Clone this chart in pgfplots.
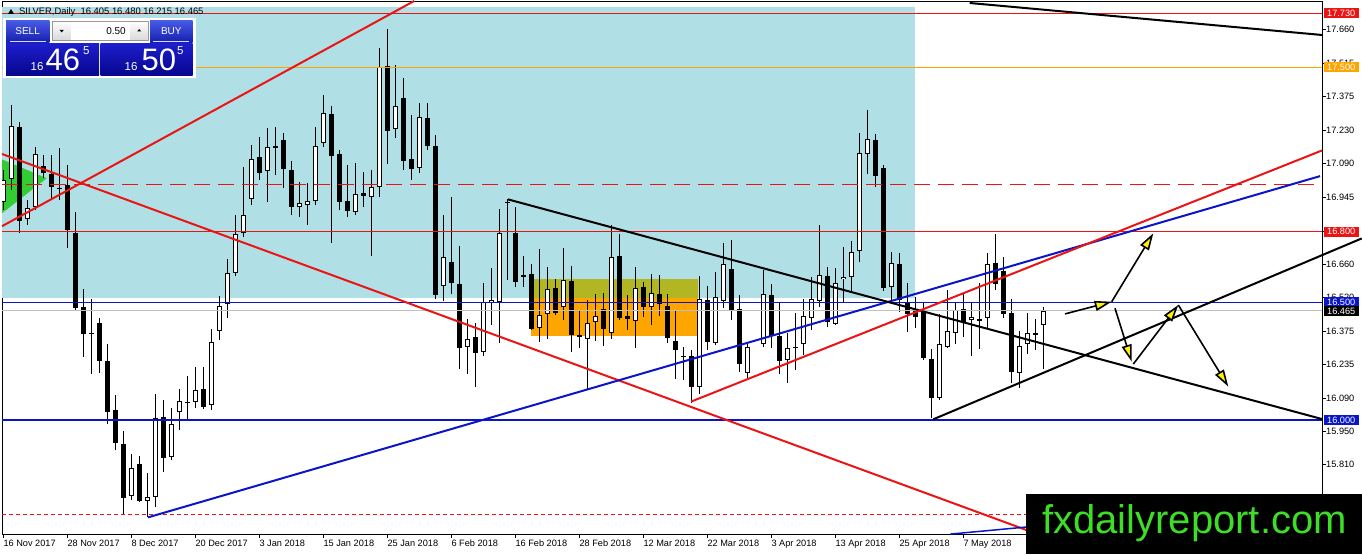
\documentclass[border=0pt]{standalone}
\usepackage{fontspec}
\setmainfont{Liberation Sans}
\usepackage{pgfplots}
\pgfplotsset{compat=1.18}
\usepackage{pgfplotstable}
\usetikzlibrary{arrows.meta}

\definecolor{pblue}{RGB}{176,224,230}
\definecolor{olivebox}{RGB}{178,182,34}
\definecolor{orbox}{RGB}{255,165,0}
\definecolor{trigreen}{RGB}{50,205,50}
\definecolor{mtred}{RGB}{235,20,20}
\definecolor{mtblue}{RGB}{10,20,200}
\definecolor{bidgray}{RGB}{192,192,192}
\definecolor{logogreen}{RGB}{62,222,40}
\definecolor{btnhi}{RGB}{70,90,228}
\definecolor{btnlo}{RGB}{20,30,175}
\definecolor{pricehi}{RGB}{30,30,205}
\definecolor{pricelo}{RGB}{5,5,140}

\newcommand{\tf}{\fontsize{9.2}{10}\selectfont}

% daily candles, bar index / open / high / low / close
\pgfplotstableread{
i O H L C
0 16.927 17.063 16.893 17.020
1 17.025 17.339 16.978 17.250
2 17.246 17.267 16.795 16.846
3 16.855 16.935 16.829 16.901
4 16.906 17.161 16.893 17.131
5 17.080 17.127 17.029 17.050
6 17.046 17.127 16.935 16.991
7 16.986 17.156 16.935 16.982
8 16.999 17.084 16.731 16.808
9 16.795 16.884 16.468 16.476
10 16.480 16.557 16.268 16.366
11 16.370 16.514 16.196 16.366
12 16.412 16.434 16.200 16.251
13 16.251 16.323 15.983 16.034
14 16.043 16.106 15.872 15.902
15 15.898 15.953 15.596 15.668
16 15.677 15.855 15.660 15.796
17 15.813 15.847 15.650 15.656
18 15.656 15.775 15.588 15.673
19 15.673 16.111 15.630 16.008
20 16.013 16.085 15.779 15.838
21 15.843 16.051 15.830 15.983
22 16.034 16.132 15.957 16.081
23 16.077 16.187 16.004 16.072
24 16.077 16.225 16.051 16.128
25 16.132 16.225 16.047 16.055
26 16.064 16.387 16.043 16.332
27 16.378 16.527 16.340 16.485
28 16.493 16.685 16.434 16.625
29 16.625 16.872 16.612 16.791
30 16.795 17.076 16.778 16.872
31 16.940 17.169 16.914 17.110
32 17.118 17.203 17.020 17.050
33 17.059 17.241 16.927 17.161
34 17.165 17.246 17.042 17.156
35 17.190 17.220 16.986 17.067
36 17.063 17.101 16.872 16.906
37 16.906 17.012 16.863 16.923
38 16.914 17.008 16.829 16.931
39 16.931 17.246 16.914 17.165
40 17.178 17.382 17.161 17.305
41 17.301 17.335 16.753 17.122
42 17.131 17.148 16.893 16.927
43 16.931 17.084 16.863 16.889
44 16.884 17.093 16.872 16.961
45 16.965 17.054 16.906 16.952
46 16.948 17.063 16.697 16.991
47 16.991 17.582 16.948 17.501
48 17.505 17.662 17.088 17.229
49 17.237 17.509 17.199 17.335
50 17.369 17.454 17.063 17.101
51 17.110 17.297 17.020 17.067
52 17.071 17.348 17.050 17.288
53 17.284 17.348 17.148 17.165
54 17.165 17.212 16.514 16.531
55 16.570 16.872 16.506 16.693
56 16.672 16.948 16.536 16.583
57 16.578 16.740 16.217 16.306
58 16.310 16.429 16.196 16.344
59 16.353 16.412 16.140 16.285
60 16.289 16.583 16.272 16.502
61 16.497 16.646 16.404 16.510
62 16.502 16.897 16.327 16.795
63 16.927 16.940 16.595 16.923
64 16.795 16.906 16.565 16.587
65 16.616 16.697 16.565 16.608
66 16.621 16.663 16.383 16.387
67 16.391 16.727 16.332 16.446
68 16.451 16.651 16.344 16.557
69 16.561 16.599 16.446 16.455
70 16.480 16.731 16.425 16.595
71 16.591 16.655 16.289 16.361
72 16.361 16.468 16.306 16.353
73 16.344 16.510 16.128 16.412
74 16.417 16.536 16.336 16.442
75 16.472 16.540 16.315 16.387
76 16.370 16.829 16.344 16.693
77 16.697 16.791 16.425 16.434
78 16.442 16.531 16.383 16.429
79 16.421 16.651 16.306 16.561
80 16.565 16.587 16.438 16.480
81 16.480 16.621 16.404 16.540
82 16.536 16.616 16.442 16.493
83 16.485 16.536 16.327 16.349
84 16.336 16.463 16.174 16.298
85 16.272 16.310 16.170 16.268
86 16.272 16.298 16.072 16.140
87 16.140 16.612 16.111 16.514
88 16.510 16.570 16.298 16.332
89 16.327 16.629 16.319 16.523
90 16.506 16.753 16.476 16.663
91 16.642 16.765 16.425 16.468
92 16.472 16.531 16.204 16.238
93 16.200 16.332 16.179 16.310
95 16.323 16.638 16.310 16.536
96 16.531 16.578 16.306 16.357
97 16.357 16.502 16.196 16.251
98 16.255 16.370 16.157 16.306
99 16.310 16.455 16.213 16.306
100 16.323 16.514 16.276 16.442
101 16.434 16.608 16.383 16.514
102 16.506 16.829 16.480 16.616
103 16.612 16.651 16.395 16.417
104 16.408 16.646 16.404 16.583
105 16.599 16.736 16.502 16.608
106 16.608 16.761 16.544 16.714
107 16.719 17.220 16.672 17.135
108 17.131 17.318 17.046 17.195
109 17.190 17.216 16.991 17.037
110 17.071 17.084 16.548 16.561
111 16.565 16.714 16.510 16.667
112 16.663 16.710 16.459 16.510
113 16.502 16.583 16.374 16.451
114 16.463 16.523 16.391 16.438
115 16.468 16.502 16.255 16.264
116 16.259 16.302 16.008 16.094
117 16.094 16.451 16.085 16.323
118 16.310 16.553 16.306 16.378
119 16.370 16.497 16.323 16.468
120 16.472 16.540 16.353 16.417
121 16.425 16.497 16.272 16.438
122 16.421 16.583 16.302 16.429
123 16.434 16.710 16.391 16.663
124 16.667 16.791 16.553 16.578
125 16.633 16.693 16.434 16.451
126 16.455 16.514 16.157 16.204
127 16.200 16.378 16.136 16.315
128 16.323 16.455 16.281 16.370
129 16.370 16.429 16.298 16.361
130 16.405 16.480 16.215 16.465
}\candles

\begin{document}
\begin{tikzpicture}
\begin{axis}[
    at={(0,0)}, anchor=south west,
    scale only axis, width=1320pt, height=533pt,
    xmin=-0.1625, xmax=164.8375,
    ymin=15.5153, ymax=17.7815,
    clip mode=individual,
    axis line style={black, line width=0.8pt},
    tick align=outside, major tick length=4pt,
    tick style={black, line width=0.8pt},
    xtick pos=bottom, ytick pos=right,
    xticklabel pos=lower, yticklabel pos=right,
    xtick={0,8,...,120},
    xticklabels={16 Nov 2017,28 Nov 2017,8 Dec 2017,20 Dec 2017,3 Jan 2018,15 Jan 2018,25 Jan 2018,6 Feb 2018,16 Feb 2018,28 Feb 2018,12 Mar 2018,22 Mar 2018,3 Apr 2018,13 Apr 2018,25 Apr 2018,7 May 2018},
    ytick={17.660,17.515,17.375,17.230,17.090,16.945,16.800,16.660,16.520,16.375,16.235,16.090,15.950,15.810,15.665},
    yticklabels={17.660,17.515,17.375,17.230,17.090,16.945,16.800,16.660,16.520,16.375,16.235,16.090,15.950,15.810,15.665},
    ticklabel style={font=\tf, inner sep=0pt},
    xticklabel style={anchor=north west, xshift=0pt, yshift=-2pt},
    yticklabel style={anchor=west},
]
% background zones
\fill[pblue] (axis cs:-0.1625,16.519) rectangle (axis cs:113.96,17.756);
\fill[olivebox] (axis cs:65.96,16.519) rectangle (axis cs:86.84,16.599);
\fill[orbox] (axis cs:65.96,16.357) rectangle (axis cs:86.84,16.519);
\fill[trigreen] (axis cs:-0.1625,17.108) -- (axis cs:5.42,17.028) -- (axis cs:-0.1625,16.879) -- cycle;

% candles: wicks, bodies, hollow up-bodies
\addplot[draw=none, error bars/.cd, y dir=plus, y explicit, error mark=none,
    error bar style={draw=black, line width=1pt}]
    table[x=i, y=L, y error plus expr={\thisrow{H}-\thisrow{L}}] {\candles};
\addplot[draw=none, error bars/.cd, y dir=plus, y explicit, error mark=none,
    error bar style={draw=black, line width=5pt}]
    table[x=i, y expr={min(\thisrow{O},\thisrow{C})}, y error plus expr={abs(\thisrow{C}-\thisrow{O})}] {\candles};
\addplot[draw=none, error bars/.cd, y dir=plus, y explicit, error mark=none,
    error bar style={draw=white, line width=3pt}]
    table[x=i, y expr={min(\thisrow{O},\thisrow{C})+0.0043}, y error plus expr={(\thisrow{C}>\thisrow{O})*max(\thisrow{C}-\thisrow{O}-0.0086,0)}] {\candles};

% horizontal levels
\draw[mtred, line width=1pt] (axis cs:-0.1625,17.73) -- (axis cs:164.8375,17.73);
\draw[orbox, line width=1pt] (axis cs:-0.1625,17.50) -- (axis cs:164.8375,17.50);
\draw[mtred, line width=1pt, dash pattern=on 16pt off 8pt] (axis cs:-0.1625,17.00) -- (axis cs:164.8375,17.00);
\draw[mtred, line width=1pt] (axis cs:-0.1625,16.80) -- (axis cs:164.8375,16.80);
\draw[mtblue, line width=1pt] (axis cs:-0.1625,16.50) -- (axis cs:164.8375,16.50);
\draw[bidgray, line width=1pt] (axis cs:-0.1625,16.465) -- (axis cs:164.8375,16.465);
\draw[mtblue, line width=2.5pt] (axis cs:-0.1625,16.00) -- (axis cs:164.8375,16.00);
\draw[mtred, line width=1pt, dash pattern=on 4pt off 3pt] (axis cs:-0.1625,15.60) -- (axis cs:164.8375,15.60);

% trend lines
\draw[mtred, line width=2pt] (axis cs:-0.1625,16.824) -- (axis cs:51.36,17.7815);
\draw[mtred, line width=2pt] (axis cs:-0.1625,17.131) -- (axis cs:128.3,15.527);
\draw[mtblue, line width=2pt] (axis cs:18.09,15.586) -- (axis cs:164.6,17.037);
\draw[black, line width=2pt] (axis cs:63.09,16.938) -- (axis cs:164.8375,16.004);
\draw[mtred, line width=2pt] (axis cs:85.96,16.078) -- (axis cs:164.8375,17.146);
\draw[black, line width=2pt] (axis cs:116.25,16.003) -- (axis cs:169.8,16.772);
\draw[black, line width=2pt] (axis cs:120.8,17.773) -- (axis cs:164.8375,17.637);
\draw[mtblue, line width=1.5pt] (axis cs:118.4,15.515) -- (axis cs:127.9,15.545);

% projected path arrows
\begin{scope}[black, line width=1.6pt, -{Triangle[length=17pt,width=10pt,fill=yellow]}]
\draw (axis cs:132.71,16.451) -- (axis cs:138.55,16.503);
\draw (axis cs:138.55,16.503) -- (axis cs:143.75,16.794);
\draw (axis cs:138.96,16.475) -- (axis cs:141.05,16.248);
\draw (axis cs:141.25,16.238) -- (axis cs:146.875,16.489);
\draw (axis cs:146.875,16.489) -- (axis cs:153.125,16.142);
\end{scope}
\end{axis}

% overlays in image pixel units (x right, -y down from top)
\begin{scope}[x=1pt, y=1pt, shift={(-2pt,534pt)}]
% header line
\fill[black] (8,-14) -- (14,-14) -- (11,-9) -- cycle;
\node[anchor=base west, inner sep=0pt, font=\fontsize{9.4}{10}\selectfont] at (19,-15) {SILVER,Daily\ \ 16.405 16.480 16.215 16.465};
% one-click trading panel
\fill[white] (3,-18) rectangle (196,-78);
\shade[top color=btnhi, bottom color=btnlo] (6,-21) rectangle (49.3,-42.7);
\shade[top color=btnhi, bottom color=btnlo] (150,-21) rectangle (192.7,-42.7);
\draw[white!85!blue, line width=0.6pt] (10,-41.5) -- (46,-41.5);
\draw[white!85!blue, line width=0.6pt] (153,-41.5) -- (189,-41.5);
\node[text=white, font=\fontsize{10}{10}\selectfont] at (27.6,-31) {SELL};
\node[text=white, font=\fontsize{10}{10}\selectfont] at (171.3,-31) {BUY};
\shade[top color=white, bottom color=black!15] (52.7,-21) rectangle (70.7,-40);
\shade[top color=white, bottom color=black!15] (130,-21) rectangle (148.3,-40);
\draw[black!40, line width=0.5pt] (52.7,-21) rectangle (148.3,-40);
\fill[black] (59.7,-30) -- (63.7,-30) -- (61.7,-32.5) -- cycle;
\fill[black] (137.2,-31.5) -- (141.2,-31.5) -- (139.2,-29) -- cycle;
\node[anchor=base east, inner sep=0pt, font=\fontsize{10}{10}\selectfont] at (126,-35) {0.50};
\shade[top color=pricehi, bottom color=pricelo] (6,-43.5) rectangle (99,-76);
\shade[top color=pricehi, bottom color=pricelo] (100.7,-43.5) rectangle (192.7,-76);
\node[anchor=base west, inner sep=0pt, text=white, font=\fontsize{11.5}{12}\selectfont] at (30.5,-70.5) {16};
\node[anchor=base west, inner sep=0pt, text=white, font=\fontsize{31}{31}\selectfont] at (45.5,-70.7) {46};
\node[anchor=base west, inner sep=0pt, text=white, font=\fontsize{11.5}{12}\selectfont] at (83,-55) {5};
\node[anchor=base west, inner sep=0pt, text=white, font=\fontsize{11.5}{12}\selectfont] at (124.5,-70.5) {16};
\node[anchor=base west, inner sep=0pt, text=white, font=\fontsize{31}{31}\selectfont] at (141.5,-70.7) {50};
\node[anchor=base west, inner sep=0pt, text=white, font=\fontsize{11.5}{12}\selectfont] at (177,-55) {5};
% price boxes on the scale
\tikzset{pbox/.style={anchor=west, inner sep=0pt, minimum width=35pt, minimum height=10pt, text=white, font=\tf}}
\node[pbox, fill=mtred] at (1323.5,-13.1) {17.730};
\node[pbox, fill=orbox] at (1323.5,-67.2) {17.500};
\node[pbox, fill=mtred] at (1323.5,-231.8) {16.800};
\node[pbox, fill=mtblue] at (1323.5,-302) {16.500};
\node[pbox, fill=black] at (1323.5,-311.5) {16.465};
\node[pbox, fill=mtblue] at (1323.5,-420) {16.000};
% logo
\fill[black] (1026,-494) rectangle (1362,-554);
\node[anchor=base west, inner sep=0pt, text=logogreen, font=\fontsize{40}{40}\selectfont] at (1042,-533) {fxdailyreport.com};
\end{scope}
\pgfresetboundingbox
\path (-2pt,-20pt) rectangle (1360pt,534pt);
\end{tikzpicture}
\end{document}
